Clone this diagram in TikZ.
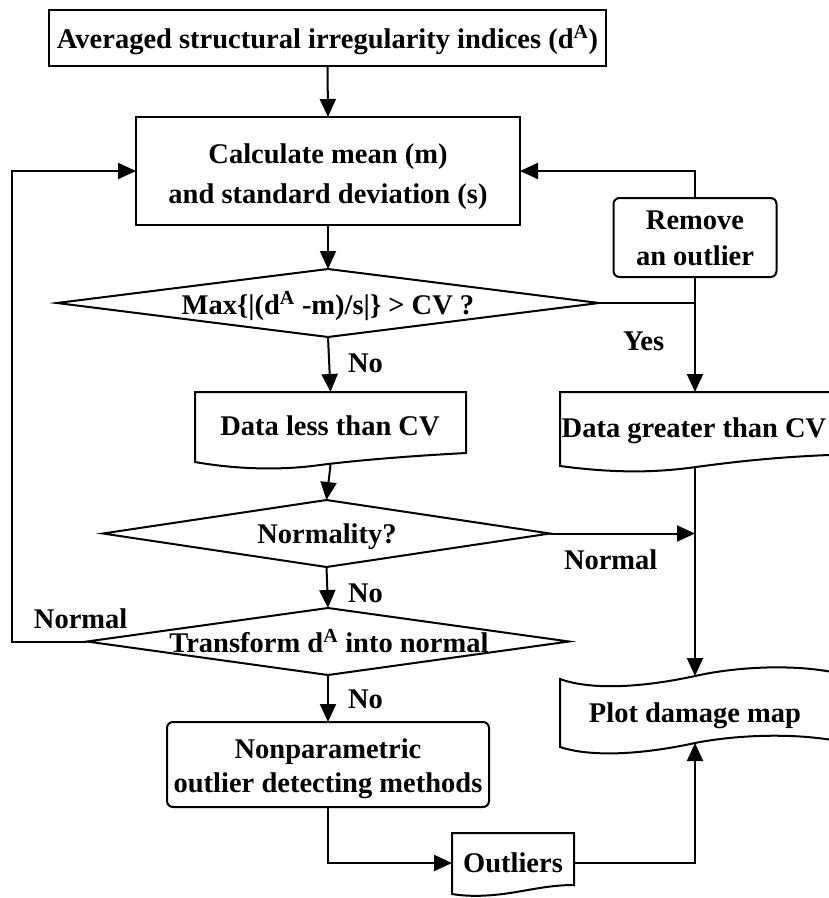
\documentclass[tikz,border=0pt]{standalone}
\usepackage{fontspec}
\setmainfont{Liberation Serif}
\usetikzlibrary{arrows.meta,shapes.geometric}
\begin{document}
\begin{tikzpicture}[x=1pt,y=-1pt,
  line width=2pt,
  box/.style={draw, inner sep=0pt, outer sep=0pt},
  area/.style={inner sep=0pt, outer sep=0pt},
  dia/.style={diamond, draw, inner sep=0pt, outer sep=0pt},
  txt/.style={font=\fontsize{28.5}{34}\selectfont\bfseries, inner sep=0pt, anchor=base},
  lab/.style={font=\fontsize{28.5}{34}\selectfont\bfseries, inner sep=0pt, anchor=base west},
  arr/.style={-{Triangle[length=18pt,width=16pt]}},
]
\useasboundingbox (0,0) rectangle (829,898);

% boxes
\node[box, minimum width=557pt, minimum height=56pt] (top) at (327.5,38) {};
\node[txt] (topT) at (327.5,48) {Averaged structural irregularity indices (d\textsuperscript{A})};

\node[box, minimum width=384pt, minimum height=108pt] (calc) at (328,171) {};
\node[txt] (calcT1) at (328,163) {Calculate mean (m)};
\node[txt] (calcT2) at (328,203) {and standard deviation (s)};

\node[box, rounded corners=6pt, minimum width=163pt, minimum height=79pt] (rem) at (695,237.5) {};
\node[txt] (remT1) at (695,229) {Remove};
\node[txt] (remT2) at (695,265) {an outlier};

\node[dia, minimum width=542pt, minimum height=68pt] (d1) at (328,303) {};
\node[txt] (d1T) at (328,314) {Max\{|(d\textsuperscript{A} -m)/s|\} > CV ?};

% Data less than CV (document shape)
\node[area, minimum width=271pt, minimum height=73pt] (dl) at (330.5,428.5) {};
\draw (195,392) -- (466,392) -- (466,453) .. controls (410,456) and (360,460) .. (320,465)
      .. controls (285,470) and (240,470) .. (195,462) -- cycle;
\node[txt] (dlT) at (330,435) {Data less than CV};

% Data greater than CV (document shape)
\node[area, minimum width=270pt, minimum height=75pt] (dg) at (695,429.5) {};
\draw (560,392) -- (832,392) -- (832,455) -- (829,455) .. controls (780,457) and (740,461) .. (696,467)
      .. controls (660,472) and (620,474) .. (560,466) -- cycle;
\node[txt] (dgT) at (694,437) {Data greater than CV};

\node[dia, minimum width=447pt, minimum height=67pt] (d2) at (326.5,533.5) {};
\node[txt] (d2T) at (327,543) {Normality?};

\node[dia, minimum width=482pt, minimum height=67pt] (d3) at (328,641.5) {};
\node[txt] (d3T) at (329,652) {Transform d\textsuperscript{A} into normal};

\node[box, rounded corners=6pt, minimum width=322pt, minimum height=85pt] (np) at (328,764.5) {};
\node[txt] (npT1) at (328,758) {Nonparametric};
\node[txt] (npT2) at (328,792) {outlier detecting methods};

% Plot damage map (tape shape)
\node[area, minimum width=270pt, minimum height=67pt] (pl) at (695,709.5) {};
\draw (560,679) .. controls (590,690) and (640,688) .. (695,676)
      .. controls (735,667) and (790,664) .. (832,672) -- (832,740)
      .. controls (790,733) and (735,735) .. (695,743)
      .. controls (640,755) and (590,757) .. (560,747) -- cycle;
\node[txt] (plT) at (695,722) {Plot damage map};

% Outliers (document shape)
\node[area, minimum width=122pt, minimum height=60pt] (ol) at (513,863) {};
\draw (452,833) -- (574,833) -- (574,885) .. controls (550,885) and (530,890) .. (510,893)
      .. controls (490,896) and (470,897) .. (452,894) -- cycle;
\node[txt] (olT) at (513,872) {Outliers};

% labels
\node[lab] (no1) at (347,372) {No};
\node[lab] (yes) at (622,350) {Yes};
\node[lab] (nrmR) at (563,569) {Normal};
\node[lab] (no2) at (347,602) {No};
\node[lab] (nrmL) at (33,628) {Normal};
\node[lab] (no3) at (347,708) {No};

% connectors
\coordinate (jn) at (695,303);
\draw[arr] (top.south) -- (calc.north);
\draw[arr] (calc.south) -- (d1.north);
\draw[arr] (d1.south) -- (dl.north);
\draw (d1.east) -- (jn);
\draw (rem.south) -- (jn);
\draw[arr] (jn) -- (dg.north);
\draw[arr] (rem.north) |- (calc.east);
\draw[arr] (dl.south) -- (d2.north);
\draw[arr] (d2.east) -- (d2.east -| dg.south);
\draw[arr] (dg.south) -- (pl.north);
\draw[arr] (d2.south) -- (d3.north);
\draw[arr] (d3.west) -- ++(-75,0) |- (calc.west);
\draw[arr] (d3.south) -- (np.north);
\draw[arr] (np.south) |- (ol.west);
\draw[arr] (ol.east) -| (pl.south);
\end{tikzpicture}
\end{document}
